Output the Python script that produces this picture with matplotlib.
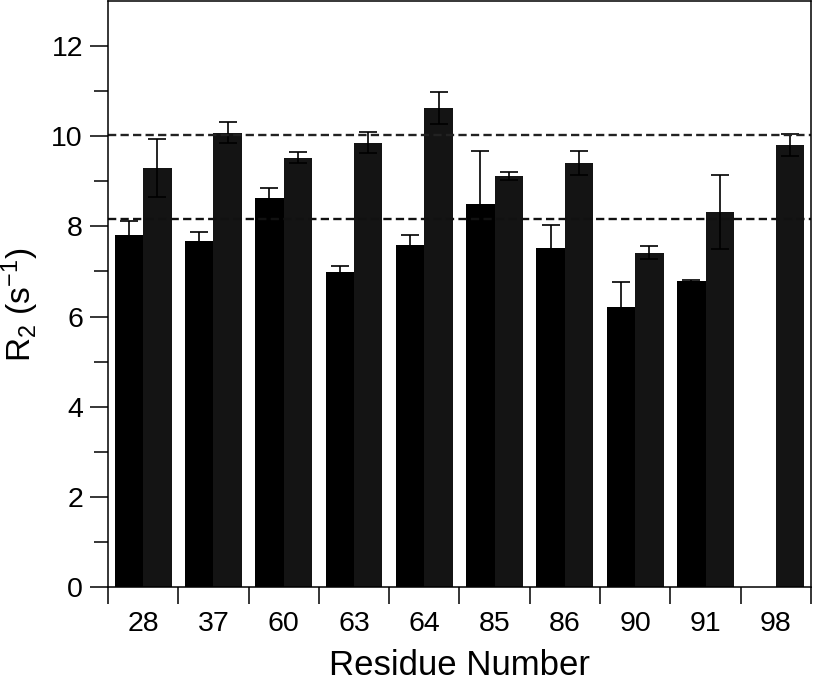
import matplotlib
matplotlib.use('Agg')
import matplotlib.pyplot as plt
import numpy as np

plt.rcParams['font.family'] = ['Liberation Sans', 'DejaVu Sans']
plt.rcParams['mathtext.default'] = 'regular'

# dados
residuos = ['28', '37', '60', '63', '64', '85', '86', '90', '91', '98']
r2_a = [7.81, 7.68, 8.64, 6.98, 7.58, 8.49, 7.52, 6.22, 6.78, np.nan]
err_a = [0.31, 0.19, 0.21, 0.14, 0.24, 1.18, 0.50, 0.54, 0.04, np.nan]
r2_b = [9.30, 10.08, 9.52, 9.86, 10.63, 9.12, 9.40, 7.42, 8.32, 9.80]
err_b = [0.65, 0.23, 0.12, 0.24, 0.36, 0.09, 0.27, 0.15, 0.83, 0.24]
linha_sup = 10.02
linha_inf = 8.16

fig = plt.figure(figsize=(8.13, 6.82), dpi=100)
ax = fig.add_axes([0.1328, 0.1393, 0.8647, 0.8592])

x = np.arange(len(residuos))
w = 0.405
ax.bar(x - w/2, r2_a, w, color='#000000', edgecolor='none')
ax.bar(x + w/2, r2_b, w, color='#141414', edgecolor='none')
ax.errorbar(x - w/2, r2_a, yerr=err_a, fmt='none', ecolor='black',
            elinewidth=1.2, capsize=6.5, capthick=1.2)
ax.errorbar(x + w/2, r2_b, yerr=err_b, fmt='none', ecolor='black',
            elinewidth=1.2, capsize=6.5, capthick=1.2)

# linhas tracejadas
ax.axhline(linha_sup, color='#222222', lw=1.7, ls=(0, (3.5, 1.8)))
ax.axhline(linha_inf, color='#111111', lw=1.7, ls=(0, (3.5, 1.8)))

ax.set_xlim(-0.5, len(residuos) - 0.5)
ax.set_ylim(0, 13)

# ticks nas fronteiras, rotulos no centro
ax.set_xticks(np.arange(len(residuos) + 1) - 0.5)
ax.set_xticklabels([])
ax.set_xticks(x, minor=True)
ax.set_xticklabels(residuos, minor=True)
ax.tick_params(axis='x', which='major', length=12.5, width=1.1, direction='out')
ax.tick_params(axis='x', which='minor', length=0, labelsize=20.5, pad=17)

ax.set_yticks(np.arange(0, 13, 2))
ax.set_yticks(np.arange(1, 13, 2), minor=True)
ax.tick_params(axis='y', which='major', length=13, width=1.1, labelsize=20.5, pad=5)
ax.tick_params(axis='y', which='minor', length=10, width=1.1)

for s in ax.spines.values():
    s.set_linewidth(1.1)

ax.set_xlabel('Residue Number', fontsize=25, labelpad=9)
ax.set_ylabel('R$_2$ (s$^{-1}$)', fontsize=24)
ax.yaxis.set_label_coords(-0.095, 0.481)

fig.savefig('out.png', dpi=100)
